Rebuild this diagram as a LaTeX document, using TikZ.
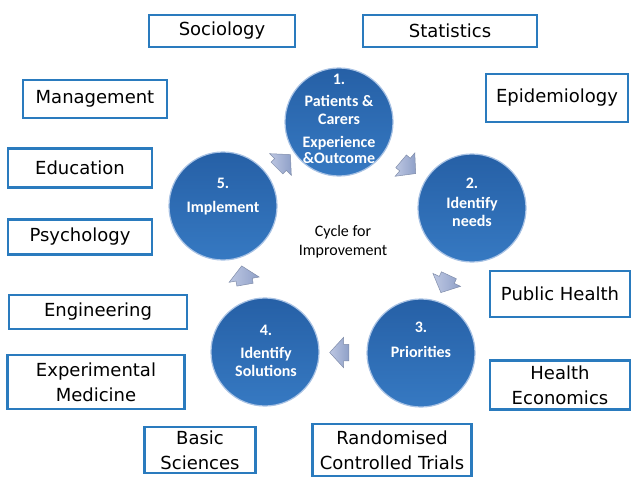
\documentclass[tikz,border=0pt]{standalone}
\usepackage{fontspec}
\setmainfont{Carlito}
\newfontfamily\boxfont{DejaVu Sans}
\usetikzlibrary{shapes.arrows,calc}
\definecolor{stageblue}{HTML}{3679C2}
\definecolor{stagedark}{HTML}{2660A6}
\definecolor{stagerim}{HTML}{A8C2E4}
\definecolor{fieldblue}{HTML}{2A7BBE}
\definecolor{flowtop}{HTML}{BDC7E2}
\definecolor{flowbot}{HTML}{8FA0C8}

\begin{document}
\begin{tikzpicture}[
    x=1pt, y=-1pt,
    field/.style={
        rectangle,
        draw=fieldblue,
        line width=2.4pt,
        fill=white,
        align=center,
        inner sep=0pt,
        font=\boxfont\fontsize{18}{25}\selectfont
    },
    stage/.style={
        circle,
        top color=stagedark,
        bottom color=stageblue,
        draw=stagerim,
        line width=1.2pt,
        minimum size=108pt,
        inner sep=0pt
    },
    stagetext/.style={
        text=white,
        align=center,
        font=\bfseries\fontsize{16}{18}\selectfont
    },
    flow/.style={
        single arrow,
        left color=flowtop,
        right color=flowbot,
        draw=flowbot!80!black!90,
        line width=0.5pt,
        text width=11pt,
        text height=8pt,
        text depth=8pt,
        single arrow head extend=7pt,
        single arrow tip angle=95,
        inner sep=0pt
    }
]

\useasboundingbox (0,0) rectangle (638,479);

\node[field, minimum width=146pt, minimum height=32pt] (sociology) at (222,31) {Sociology};
\node[field, minimum width=174pt, minimum height=32pt] (statistics) at (450,31) {Statistics};
\node[field, minimum width=144pt, minimum height=38pt] (management) at (95,99) {Management};
\node[field, minimum width=142pt, minimum height=48pt] (epidemiology) at (557,98) {Epidemiology};
\node[field, minimum width=144pt, minimum height=39pt] (education) at (80,168) {Education};
\node[field, minimum width=144pt, minimum height=35pt] (psychology) at (80,237) {Psychology};
\node[field, minimum width=178pt, minimum height=34pt] (engineering) at (98,312) {Engineering};
\node[field, minimum width=177pt, minimum height=54pt] (expmed) at (96,382) {Experimental\\Medicine};
\node[field, minimum width=111pt, minimum height=46pt] (basic) at (200,450) {Basic\\Sciences};
\node[field, minimum width=159pt, minimum height=52pt] (rct) at (392,450) {Randomised\\Controlled Trials};
\node[field, minimum width=140pt, minimum height=46pt] (publichealth) at (560,294) {Public Health};
\node[field, minimum width=140pt, minimum height=49pt] (healthecon) at (560,385) {Health\\Economics};

\node[stage] (s1) at (339,122) {};
\node[stage] (s2) at (472,208) {};
\node[stage] (s3) at (421,353) {};
\node[stage] (s4) at (265,352) {};
\node[stage] (s5) at (223,206) {};

\node[stagetext] (t1) at (339,119) {1.\\[4pt]Patients \&\\Carers\\[5pt]Experience\\[-2pt]\&Outcome};
\node[stagetext] (t2) at (472,202) {2.\\[2pt]Identify\\needs};
\node[stagetext] (t3) at (421,340) {3.\\[7pt]Priorities};
\node[stagetext] (t4) at (266,351) {4.\\[5pt]Identify\\Solutions};
\node[stagetext] (t5) at (223,197) {5.\\[6pt]Implement};

\node[flow, rotate=-40] (f12) at ($(s1)!0.5!(s2)$) {};
\node[flow, rotate=-115] (f23) at ($(s2)!0.5!(s3)$) {};
\node[flow, rotate=180] (f34) at ($(s3)!0.5!(s4)$) {};
\node[flow, rotate=100] (f45) at ($(s4)!0.5!(s5)$) {};
\node[flow, rotate=45] (f51) at ($(s5)!0.5!(s1)$) {};

\node[align=center, font=\fontsize{16}{19}\selectfont] (cycle) at (343,242) {Cycle for\\Improvement};

\end{tikzpicture}
\end{document}
